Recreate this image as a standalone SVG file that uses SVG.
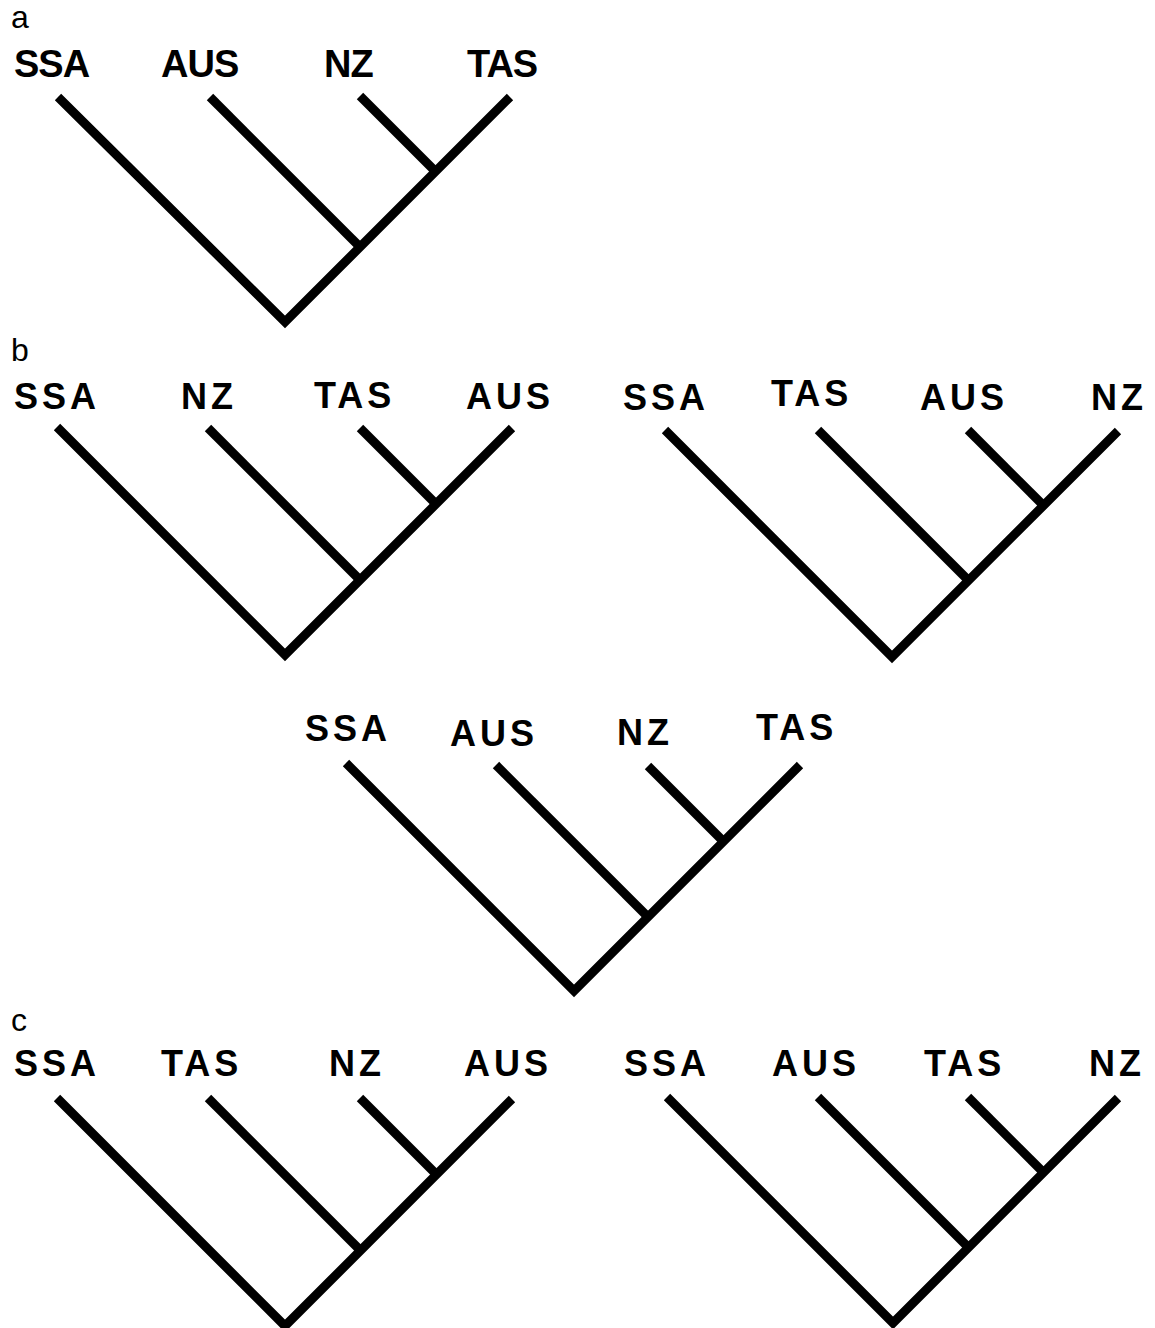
<svg xmlns="http://www.w3.org/2000/svg" width="1155" height="1328" viewBox="0 0 1155 1328">
<style>
.br{fill:none;stroke:#000;stroke-width:9;stroke-linecap:butt;stroke-linejoin:miter}
.pl{font-family:"Liberation Sans",Arial,sans-serif;font-size:32px;fill:#000}
.ta{font-family:"Liberation Sans",Arial,sans-serif;font-size:38px;font-weight:bold;fill:#000;letter-spacing:-1px}
.tb{font-family:"Liberation Sans",Arial,sans-serif;font-size:36px;font-weight:bold;fill:#000;letter-spacing:4px}
</style>
<rect width="1155" height="1328" fill="#fff"/>
<g id="panel-labels">
<text class="pl" x="11" y="28">a</text>
<text class="pl" x="11" y="361">b</text>
<text class="pl" x="11" y="1031">c</text>
</g>
<g id="tree-a">
<g id="tree-a-labels">
<text class="ta" x="14" y="77">SSA</text>
<text class="ta" x="161" y="77">AUS</text>
<text class="ta" x="324" y="77">NZ</text>
<text class="ta" x="467" y="77">TAS</text>
</g>
<g id="tree-a-connectors">
<path class="br" d="M58,97 L285,322 L510,97"/>
<path class="br" d="M210,97 L361,248"/>
<path class="br" d="M360,96 L434,170"/>
</g>
</g>
<g id="tree-b1">
<g id="tree-b1-labels">
<text class="tb" x="14" y="409">SSA</text>
<text class="tb" x="181" y="409">NZ</text>
<text class="tb" x="314" y="408">TAS</text>
<text class="tb" x="466" y="409">AUS</text>
</g>
<g id="tree-b1-connectors">
<path class="br" d="M57,427 L285,655 L512,428"/>
<path class="br" d="M208,428 L361,581"/>
<path class="br" d="M360,428 L434,502"/>
</g>
</g>
<g id="tree-b2">
<g id="tree-b2-labels">
<text class="tb" x="623" y="410">SSA</text>
<text class="tb" x="771" y="406">TAS</text>
<text class="tb" x="920" y="410">AUS</text>
<text class="tb" x="1091" y="410">NZ</text>
</g>
<g id="tree-b2-connectors">
<path class="br" d="M665,430 L892,657 L1118,431"/>
<path class="br" d="M818,430 L969,581"/>
<path class="br" d="M968,430 L1044,506"/>
</g>
</g>
<g id="tree-b3">
<g id="tree-b3-labels">
<text class="tb" x="305" y="741">SSA</text>
<text class="tb" x="450" y="746">AUS</text>
<text class="tb" x="617" y="745">NZ</text>
<text class="tb" x="756" y="740">TAS</text>
</g>
<g id="tree-b3-connectors">
<path class="br" d="M346,763 L574,991 L800,765"/>
<path class="br" d="M496,765 L649,918"/>
<path class="br" d="M648,766 L725,843"/>
</g>
</g>
<g id="tree-c1">
<g id="tree-c1-labels">
<text class="tb" x="14" y="1076">SSA</text>
<text class="tb" x="161" y="1076">TAS</text>
<text class="tb" x="329" y="1076">NZ</text>
<text class="tb" x="464" y="1076">AUS</text>
</g>
<g id="tree-c1-connectors">
<path class="br" d="M57,1098 L285,1326 L512,1099"/>
<path class="br" d="M208,1098 L361,1251"/>
<path class="br" d="M360,1098 L434,1172"/>
</g>
</g>
<g id="tree-c2">
<g id="tree-c2-labels">
<text class="tb" x="624" y="1076">SSA</text>
<text class="tb" x="772" y="1076">AUS</text>
<text class="tb" x="924" y="1076">TAS</text>
<text class="tb" x="1089" y="1076">NZ</text>
</g>
<g id="tree-c2-connectors">
<path class="br" d="M667,1097 L893,1323 L1118,1098"/>
<path class="br" d="M818,1097 L969,1248"/>
<path class="br" d="M968,1097 L1044,1173"/>
</g>
</g>
</svg>
